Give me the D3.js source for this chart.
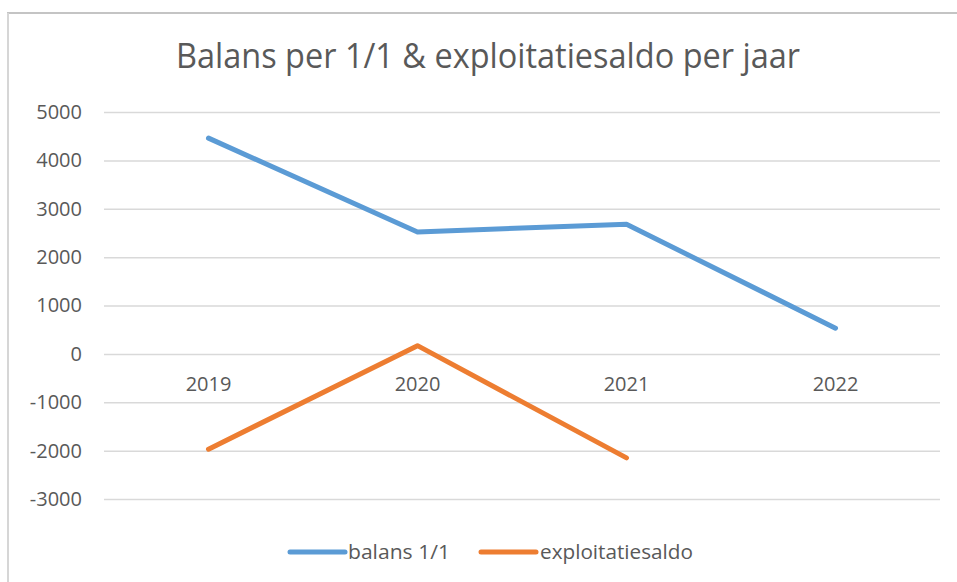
<!DOCTYPE html>
<html>
<head>
<meta charset="utf-8">
<script src="https://cdn.jsdelivr.net/npm/d3@7"></script>
<style>
  body { margin: 0; background: #fff; }
  svg { display: block; font-family: "Open Sans", "Liberation Sans", sans-serif; }
</style>
</head>
<body>
<svg id="chart" width="957" height="582"></svg>
<script>
const years = ["2019", "2020", "2021", "2022"];
const balans = [4460, 2520, 2680, 530];
const exploitatiesaldo = [-1970, 170, -2150];
const yTicks = [-3000, -2000, -1000, 0, 1000, 2000, 3000, 4000, 5000];
const seriesNames = ["balans 1/1", "exploitatiesaldo"];
const seriesColors = ["#5B9BD5", "#ED7D31"];

const svg = d3.select("#chart");
const margin = {top: 112, right: 17, bottom: 83, left: 104};
const width = 957 - margin.left - margin.right;
const height = 582 - margin.top - margin.bottom;

// frame edges (only top and left visible in the screenshot)
svg.append("line").attr("x1", 7).attr("x2", 957).attr("y1", 13).attr("y2", 13)
  .attr("stroke", "#c4c4c4").attr("stroke-width", 2);
svg.append("line").attr("x1", 8).attr("x2", 8).attr("y1", 13).attr("y2", 582)
  .attr("stroke", "#d6d6d6").attr("stroke-width", 2);

svg.append("text")
  .attr("x", 488).attr("y", 68)
  .attr("text-anchor", "middle")
  .attr("fill", "#595959")
  .style("font-size", "34px")
  .attr("textLength", 624)
  .attr("lengthAdjust", "spacingAndGlyphs")
  .text("Balans per 1/1 & exploitatiesaldo per jaar");

const g = svg.append("g").attr("transform", `translate(${margin.left},${margin.top})`);

const x = d3.scaleBand().domain(years).range([0, width]);
const y = d3.scaleLinear().domain([-3000, 5000]).range([height, 0]);

// gridlines
g.append("g")
  .call(d3.axisLeft(y).tickValues(yTicks).tickSize(-width).tickFormat(""))
  .call(a => a.select(".domain").remove())
  .call(a => a.selectAll("line").attr("stroke", "#d9d9d9").attr("stroke-width", 1.5));

// y labels
g.append("g")
  .call(d3.axisLeft(y).tickValues(yTicks).tickSize(0).tickPadding(22).tickFormat(d => String(d)))
  .call(a => a.select(".domain").remove())
  .call(a => a.selectAll("text").attr("fill", "#595959").style("font-size", "20px")
    .style("font-family", "\"Open Sans\", sans-serif"));

// x labels sit just below the zero line
g.append("g")
  .attr("transform", `translate(0,${y(0)})`)
  .call(d3.axisBottom(x).tickSize(0).tickPadding(23))
  .call(a => a.select(".domain").remove())
  .call(a => a.selectAll("text").attr("fill", "#595959").style("font-size", "20px")
    .style("font-family", "\"Open Sans\", sans-serif"));

const line = d3.line()
  .x((d, i) => x(years[i]) + x.bandwidth() / 2)
  .y(d => y(d));

[balans, exploitatiesaldo].forEach((vals, i) => {
  g.append("path")
    .datum(vals)
    .attr("fill", "none")
    .attr("stroke", seriesColors[i])
    .attr("stroke-width", 5)
    .attr("stroke-linecap", "round")
    .attr("stroke-linejoin", "round")
    .attr("d", line);
});

// legend
const legendPos = [{lx: 290, tx: 348, w: 102}, {lx: 481, tx: 540, w: 153}];
const legend = svg.append("g");
seriesNames.forEach((name, i) => {
  legend.append("line")
    .attr("x1", legendPos[i].lx).attr("x2", legendPos[i].lx + 55)
    .attr("y1", 552).attr("y2", 552)
    .attr("stroke", seriesColors[i]).attr("stroke-width", 5)
    .attr("stroke-linecap", "round");
  legend.append("text")
    .attr("x", legendPos[i].tx).attr("y", 559)
    .attr("fill", "#595959")
    .style("font-size", "20px")
    .attr("textLength", legendPos[i].w)
    .attr("lengthAdjust", "spacingAndGlyphs")
    .text(name);
});
</script>
</body>
</html>
